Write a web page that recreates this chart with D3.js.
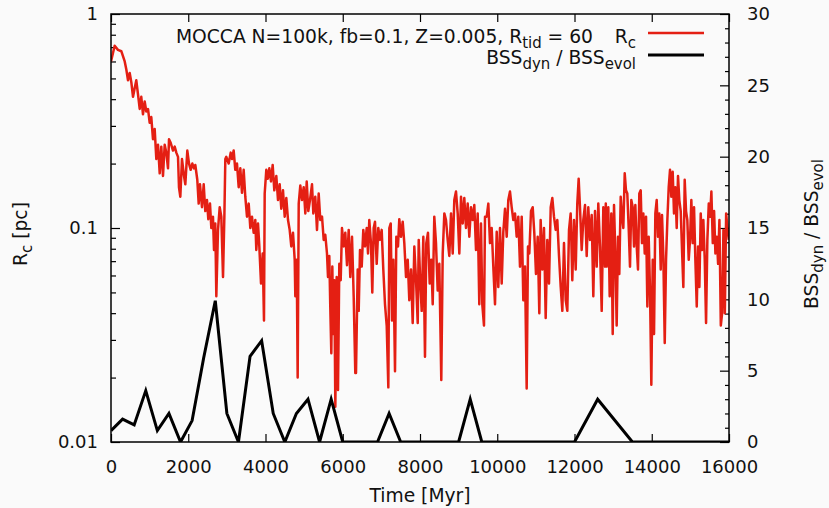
<!DOCTYPE html>
<html>
<head>
<meta charset="utf-8">
<script src="https://cdn.jsdelivr.net/npm/d3@7"></script>
<style>
  body { margin: 0; background: #fafafa; }
  svg text { font-family: "DejaVu Sans", sans-serif; }
</style>
</head>
<body>
<div id="chart"></div>
<script>
/**
 * DATA
 * */
// core radius Rc [pc] vs time [Myr]
const rcTime = [
  0, 95, 180, 267, 355, 397, 440, 484, 526, 570, 613, 655, 700, 743, 784, 828, 872, 914, 958, 1002,
  1043, 1087, 1131, 1173, 1217, 1261, 1302, 1346, 1390, 1432, 1476, 1502, 1545, 1605, 1649, 1691, 1735, 1760, 1795, 1838,
  1890, 1924, 1976, 2020, 2063, 2106, 2149, 2183, 2234, 2270, 2304, 2356, 2400, 2441, 2485, 2519, 2563, 2597, 2640, 2667,
  2700, 2727, 2770, 2814, 2856, 2900, 2935, 2960, 2985, 3047, 3099,
  3133, 3176, 3218, 3262, 3306, 3348, 3392, 3435, 3477, 3521, 3565, 3607, 3650, 3694, 3736, 3762, 3806, 3840, 3884, 3927,
  3961, 3979, 4021, 4057, 4099, 4142, 4186, 4228, 4280, 4324, 4367, 4409, 4453, 4497, 4539, 4583, 4626, 4668, 4712, 4756,
  4772, 4808, 4833, 4860, 4901, 4945, 4989, 5031, 5067, 5108, 5152, 5204, 5238, 5289, 5333, 5377, 5419, 5463, 5507, 5548,
  5592, 5618, 5652, 5677, 5704, 5730, 5756, 5782, 5808, 5843, 5877, 5911, 5947, 5980, 6025, 6066, 6110, 6154, 6195, 6240,
  6283, 6325, 6343,
  6387, 6413, 6447, 6491, 6532, 6576, 6620, 6654, 6687, 6731, 6765, 6801, 6835, 6879, 6920, 6964, 7008, 7050, 7094, 7138,
  7180, 7206, 7242, 7275, 7310, 7353, 7387, 7430, 7464, 7508, 7552, 7594, 7638, 7682, 7723, 7767, 7811, 7853, 7897, 7941,
  7967, 8008, 8044, 8086, 8129, 8163, 8207, 8251, 8292, 8329, 8370, 8414, 8458, 8500, 8551, 8588, 8630, 8673, 8717, 8759,
  8803, 8847, 8888, 8932, 8976, 9018, 9062, 9106, 9147, 9191, 9235, 9277, 9320, 9364, 9406, 9450, 9494, 9535, 9579,
  9613, 9657, 9683, 9727, 9769, 9812, 9856, 9898, 9942, 9986, 10027, 10071, 10115, 10157, 10201, 10245, 10286, 10330, 10374, 10416,
  10460, 10503, 10545, 10589, 10633, 10675, 10718, 10762, 10796, 10830, 10874, 10918, 10959, 11003, 11047, 11089, 11124, 11167, 11210, 11254,
  11296, 11340, 11384, 11426, 11469, 11513, 11555, 11599, 11643, 11685, 11728, 11772, 11814, 11858, 11901, 11943, 11987, 12031, 12072, 12108,
  12142, 12186, 12228, 12272, 12316, 12357, 12401, 12445, 12487, 12531, 12575, 12616, 12660, 12704, 12746, 12790,
  12810, 12833, 12875, 12911, 12953, 12989, 13023, 13057, 13092, 13126, 13160, 13196, 13230, 13264, 13300, 13333, 13367, 13403, 13437, 13471,
  13507, 13541, 13575, 13611, 13644, 13678, 13714, 13748, 13782, 13818, 13852, 13886, 13921, 13955, 13989, 14025, 14059, 14093, 14128, 14162,
  14196, 14232, 14266, 14300, 14336, 14370, 14404, 14439, 14473, 14507, 14542, 14576, 14610, 14646, 14680, 14714, 14750, 14784, 14818, 14853,
  14888, 14921, 14957, 14991, 15025, 15061, 15095, 15129, 15165, 15199, 15233, 15268, 15302, 15336, 15372, 15406, 15440, 15476, 15510, 15544,
  15580, 15614, 15648, 15684, 15718, 15752, 15788, 15822, 15856, 15892, 15926, 15960, 15996
];
const rcValue = [
  0.60, 0.71, 0.68, 0.67, 0.60, 0.55, 0.49, 0.53, 0.48, 0.41, 0.45, 0.49, 0.42, 0.36, 0.41, 0.34, 0.39, 0.35, 0.36, 0.31,
  0.33, 0.26, 0.29, 0.21, 0.245, 0.18, 0.24, 0.175, 0.245, 0.225, 0.19, 0.26, 0.25, 0.23, 0.24, 0.225, 0.215, 0.155, 0.14, 0.21,
  0.175, 0.16, 0.23, 0.20, 0.187, 0.20, 0.19, 0.197, 0.168, 0.13, 0.16, 0.125, 0.16, 0.12, 0.135, 0.11, 0.13, 0.10, 0.113, 0.079,
  0.105, 0.048, 0.098, 0.125, 0.113, 0.059, 0.113, 0.21, 0.215, 0.20, 0.225,
  0.21, 0.23, 0.187, 0.20, 0.155, 0.19, 0.146, 0.187, 0.14, 0.113, 0.13, 0.10, 0.113, 0.095, 0.109, 0.079, 0.105, 0.082, 0.055, 0.076,
  0.037, 0.145, 0.187, 0.17, 0.19, 0.165, 0.197, 0.15, 0.175, 0.135, 0.16, 0.123, 0.15, 0.113, 0.138, 0.109, 0.098, 0.082, 0.095, 0.071,
  0.048, 0.071, 0.020, 0.13, 0.158, 0.135, 0.155, 0.117, 0.165, 0.12, 0.135, 0.16, 0.117, 0.14, 0.098, 0.145, 0.109, 0.113, 0.088, 0.093,
  0.076, 0.059, 0.074, 0.043, 0.026, 0.066, 0.032, 0.057, 0.0146, 0.059, 0.0175, 0.068, 0.057, 0.10, 0.082, 0.095, 0.067, 0.098, 0.059, 0.091,
  0.048, 0.021, 0.021,
  0.064, 0.041, 0.079, 0.066, 0.098, 0.082, 0.10, 0.076, 0.109, 0.085, 0.05, 0.10, 0.107, 0.068, 0.10, 0.088, 0.098, 0.064, 0.044, 0.035,
  0.018, 0.10, 0.105, 0.037, 0.071, 0.0214, 0.091, 0.082, 0.11, 0.091, 0.107, 0.085, 0.059, 0.071, 0.046, 0.064, 0.036, 0.082, 0.057, 0.036,
  0.088, 0.055, 0.041, 0.091, 0.025, 0.085, 0.095, 0.055, 0.071, 0.044, 0.113, 0.085, 0.051, 0.068, 0.0195, 0.076, 0.117, 0.109, 0.088, 0.074,
  0.117, 0.076, 0.135, 0.148, 0.117, 0.076, 0.14, 0.105, 0.138, 0.10, 0.13, 0.091, 0.125, 0.109, 0.128, 0.079, 0.117, 0.044, 0.105,
  0.044, 0.035, 0.113, 0.113, 0.13, 0.085, 0.10, 0.066, 0.044, 0.096, 0.053, 0.10, 0.055, 0.096, 0.123, 0.091, 0.135, 0.148, 0.125, 0.109,
  0.117, 0.091, 0.113, 0.066, 0.113, 0.046, 0.066, 0.0178, 0.082, 0.076, 0.12, 0.125, 0.095, 0.061, 0.091, 0.04, 0.109, 0.064, 0.10, 0.038,
  0.088, 0.055, 0.125, 0.138, 0.113, 0.098, 0.109, 0.074, 0.053, 0.041, 0.085, 0.046, 0.041, 0.098, 0.117, 0.057, 0.109, 0.064, 0.13, 0.17,
  0.125, 0.079, 0.109, 0.128, 0.074, 0.125, 0.088, 0.115, 0.048, 0.12, 0.066, 0.13, 0.082, 0.041, 0.125, 0.066,
  0.13, 0.066, 0.125, 0.048, 0.117, 0.032, 0.128, 0.076, 0.035, 0.091, 0.061, 0.14, 0.113, 0.10, 0.18, 0.15, 0.145, 0.10, 0.066, 0.135,
  0.125, 0.082, 0.128, 0.082, 0.064, 0.145, 0.15, 0.085, 0.117, 0.076, 0.113, 0.043, 0.091, 0.051, 0.0185, 0.071, 0.032, 0.117, 0.135, 0.091,
  0.117, 0.064, 0.115, 0.074, 0.029, 0.071, 0.109, 0.155, 0.187, 0.14, 0.183, 0.117, 0.155, 0.10, 0.175, 0.135, 0.12, 0.079, 0.053, 0.168,
  0.12, 0.109, 0.071, 0.088, 0.135, 0.085, 0.125, 0.071, 0.043, 0.082, 0.053, 0.117, 0.079, 0.109, 0.071, 0.036, 0.088, 0.13, 0.113, 0.148,
  0.085, 0.12, 0.076, 0.091, 0.068, 0.109, 0.035, 0.04, 0.098, 0.04, 0.117, 0.10, 0.088
];
// BSS_dyn / BSS_evol ratio (right axis)
const bssTime = [0, 300, 600, 900, 1200, 1500, 1800, 2100, 2400, 2700, 3000, 3300, 3600, 3900, 4200, 4500, 4800, 5100, 5400, 5700,
  6000, 6900, 7200, 7500, 9000, 9300, 9600, 12000, 12600, 13500, 16000];
const bssRatio = [0.8, 1.6, 1.2, 3.6, 0.8, 2.0, 0, 1.5, 5.9, 9.9, 2.0, 0, 6.0, 7.1, 2.0, 0, 2.0, 3.0, 0, 3.0,
  0, 0, 2.0, 0, 0, 3.0, 0, 0, 3.0, 0, 0];

const xTicks = [0, 2000, 4000, 6000, 8000, 10000, 12000, 14000, 16000];
const yTicks = [0.01, 0.1, 1];
const yTickLabels = ["0.01", "0.1", "1"];
const yMinorTicks = [0.02, 0.03, 0.04, 0.05, 0.06, 0.07, 0.08, 0.09, 0.2, 0.3, 0.4, 0.5, 0.6, 0.7, 0.8, 0.9];
const y2Ticks = [0, 5, 10, 15, 20, 25, 30];
const y2MinorTicks = [1, 2, 3, 4, 6, 7, 8, 9, 11, 12, 13, 14, 16, 17, 18, 19, 21, 22, 23, 24, 26, 27, 28, 29];

/**
 * LAYOUT
 * */
const width = 829, height = 508;
const margin = { top: 14, bottom: 66, left: 111, right: 100 };
const x0 = margin.left, x1 = width - margin.right;
const y0 = height - margin.bottom, y1 = margin.top;
const FONT = 18;      // tick labels
const TFONT = 18.7;   // legend and axis titles

const x = d3.scaleLinear().domain([0, 16000]).range([x0, x1]);
const y = d3.scaleLog().domain([0.01, 1]).range([y0, y1]);
const y2 = d3.scaleLinear().domain([0, 30]).range([y0, y1]);

const svg = d3.select("#chart").append("svg")
  .attr("width", width)
  .attr("height", height)
  .style("background", "#fafafa");

svg.append("clipPath").attr("id", "plot-clip")
  .append("rect")
  .attr("x", x0).attr("y", y1)
  .attr("width", x1 - x0).attr("height", y0 - y1);

// axes
function styleAxis(g) {
  g.select(".domain").remove();
  g.attr("font-size", FONT).attr("font-family", "DejaVu Sans, sans-serif");
  g.selectAll("line").attr("stroke", "#000").attr("stroke-width", 1.2);
  g.selectAll("text").attr("fill", "#111");
}

svg.append("g")
  .attr("transform", `translate(0,${y0})`)
  .call(d3.axisBottom(x).tickValues(xTicks).tickSizeInner(-8).tickSizeOuter(0).tickPadding(18).tickFormat(d3.format("d")))
  .call(styleAxis);

svg.append("g")
  .attr("transform", `translate(0,${y1})`)
  .call(d3.axisTop(x).tickValues(xTicks).tickSizeInner(-8).tickSizeOuter(0).tickFormat(""))
  .call(styleAxis);

svg.append("g")
  .attr("transform", `translate(${x0},0)`)
  .call(d3.axisLeft(y).tickValues(yTicks).tickSizeInner(-9).tickSizeOuter(0).tickPadding(13)
    .tickFormat((d, i) => yTickLabels[i]))
  .call(styleAxis);

svg.append("g")
  .attr("transform", `translate(${x0},0)`)
  .call(d3.axisLeft(y).tickValues(yMinorTicks).tickSizeInner(-5).tickSizeOuter(0).tickFormat(""))
  .call(styleAxis);

svg.append("g")
  .attr("transform", `translate(${x1},0)`)
  .call(d3.axisRight(y2).tickValues(y2Ticks).tickSizeInner(-9).tickSizeOuter(0).tickPadding(18))
  .call(styleAxis);

svg.append("g")
  .attr("transform", `translate(${x1},0)`)
  .call(d3.axisRight(y2).tickValues(y2MinorTicks).tickSizeInner(-4).tickSizeOuter(0).tickFormat(""))
  .call(styleAxis);

// lines
const rcData = rcTime.map((t, i) => ({ t: t, v: rcValue[i] }));
const bssData = bssTime.map((t, i) => ({ t: t, v: bssRatio[i] }));

const plot = svg.append("g").attr("clip-path", "url(#plot-clip)");

plot.append("path")
  .datum(rcData)
  .attr("fill", "none")
  .attr("stroke", "#e41f13")
  .attr("stroke-width", 2.5)
  .attr("stroke-linejoin", "round")
  .attr("d", d3.line().x(d => x(d.t)).y(d => y(d.v)));

plot.append("path")
  .datum(bssData)
  .attr("fill", "none")
  .attr("stroke", "#000")
  .attr("stroke-width", 3)
  .attr("stroke-linejoin", "miter")
  .attr("d", d3.line().x(d => x(d.t)).y(d => y2(d.v)));

// frame
svg.append("rect")
  .attr("x", x0).attr("y", y1)
  .attr("width", x1 - x0).attr("height", y0 - y1)
  .attr("fill", "none")
  .attr("stroke", "#000")
  .attr("stroke-width", 1.5);

// text with subscripts: parts = [[text, isSub], ...]
function richText(parent, parts, attrs) {
  const t = parent.append("text").attr("font-size", TFONT).attr("fill", "#111");
  Object.entries(attrs).forEach(([k, v]) => t.attr(k, v));
  let shifted = false;
  parts.forEach(([s, sub]) => {
    const ts = t.append("tspan").text(s);
    if (sub && !shifted) { ts.attr("dy", 5).attr("font-size", TFONT * 0.8); shifted = true; }
    else if (sub) { ts.attr("font-size", TFONT * 0.8); }
    else if (!sub && shifted) { ts.attr("dy", -5); shifted = false; }
  });
  return t;
}

// legend
richText(svg, [["MOCCA N=100k, fb=0.1, Z=0.005, R", false], ["tid", true], [" = 60", false]],
  { x: 593, y: 43, "text-anchor": "end" });
richText(svg, [["R", false], ["c", true]], { x: 636, y: 43, "text-anchor": "end" });
richText(svg, [["BSS", false], ["dyn", true], [" / BSS", false], ["evol", true]],
  { x: 636, y: 64, "text-anchor": "end" });

svg.append("line").attr("x1", 648).attr("x2", 704).attr("y1", 33).attr("y2", 33)
  .attr("stroke", "#e41f13").attr("stroke-width", 2.5);
svg.append("line").attr("x1", 648).attr("x2", 704).attr("y1", 55).attr("y2", 55)
  .attr("stroke", "#000").attr("stroke-width", 3);

// axis titles
richText(svg, [["Time [Myr]", false]], { x: (x0 + x1) / 2, y: 502, "text-anchor": "middle" });
richText(svg, [["R", false], ["c", true], [" [pc]", false]],
  { transform: `translate(27,${(y0 + y1) / 2 + 6}) rotate(-90)`, "text-anchor": "middle" });
richText(svg, [["BSS", false], ["dyn", true], [" / BSS", false], ["evol", true]],
  { transform: `translate(818,${(y0 + y1) / 2 + 6}) rotate(-90)`, "text-anchor": "middle" });
</script>
</body>
</html>
